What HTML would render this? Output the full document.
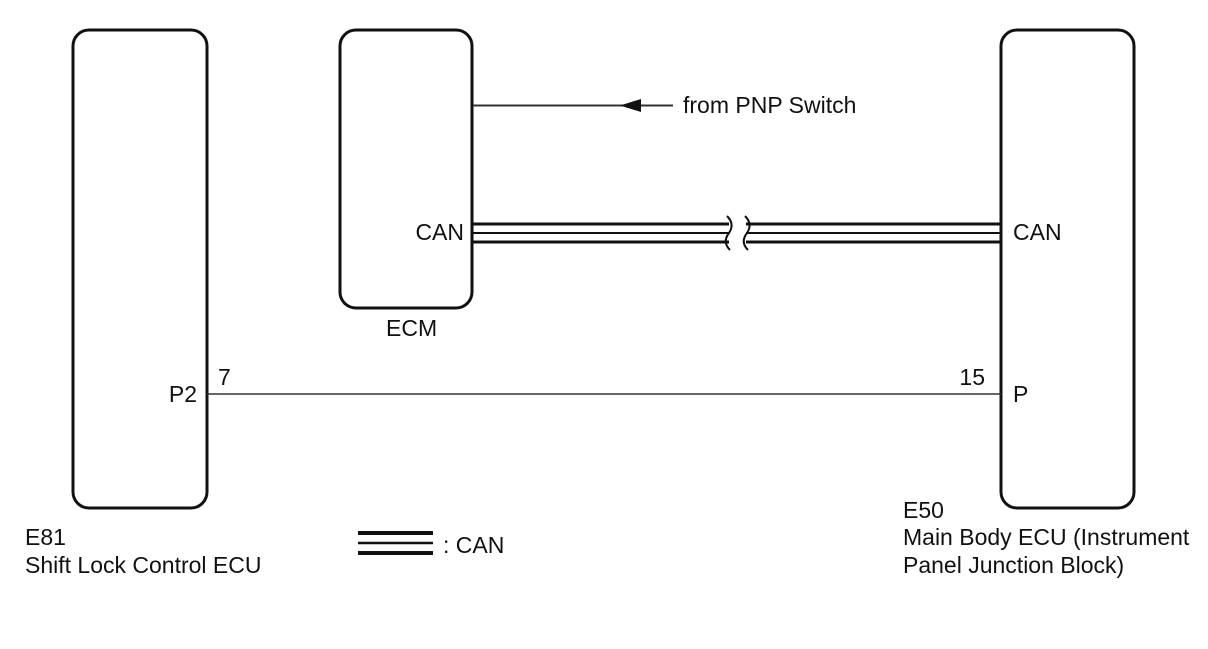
<!DOCTYPE html>
<html><head><style>
body{margin:0;background:#fff;}
svg text{font-family:"Liberation Sans",Arial,sans-serif;font-size:23px;fill:#111;}
</style></head><body>
<svg width="1208" height="644" viewBox="0 0 1208 644" xmlns="http://www.w3.org/2000/svg">
<g fill="none" stroke="#111" stroke-width="3">
<rect x="73" y="30" width="134" height="478" rx="16"/>
<rect x="340" y="30" width="132" height="278" rx="16"/>
<rect x="1001" y="30" width="133" height="478" rx="16"/>
</g>
<line x1="473" y1="105.5" x2="673" y2="105.5" stroke="#333" stroke-width="2"/>
<polygon points="620,105.5 641,99 641,112" fill="#111"/>
<text x="683" y="113">from PNP Switch</text>
<g stroke="#111">
<line x1="473" y1="224" x2="729" y2="224" stroke-width="3"/>
<line x1="473" y1="233" x2="729" y2="233" stroke-width="2"/>
<line x1="473" y1="242" x2="729" y2="242" stroke-width="3"/>
<line x1="746" y1="224" x2="1001" y2="224" stroke-width="3"/>
<line x1="746" y1="233" x2="1001" y2="233" stroke-width="2"/>
<line x1="746" y1="242" x2="1001" y2="242" stroke-width="3"/>
</g>
<path d="M727,216 q8,8 2,17 q-7,9 1,17 M745,216 q8,8 2,17 q-7,9 1,17" fill="none" stroke="#111" stroke-width="2"/>
<line x1="207" y1="394" x2="1001" y2="394" stroke="#333" stroke-width="1.6"/>
<text x="464" y="240" text-anchor="end">CAN</text>
<text x="1013" y="240">CAN</text>
<text x="386" y="336">ECM</text>
<text x="197" y="402" text-anchor="end">P2</text>
<text x="218" y="385">7</text>
<text x="985" y="385" text-anchor="end">15</text>
<text x="1013" y="402">P</text>
<g stroke="#111">
<line x1="358" y1="533" x2="433" y2="533" stroke-width="4"/>
<line x1="358" y1="543" x2="433" y2="543" stroke-width="2.5"/>
<line x1="358" y1="553" x2="433" y2="553" stroke-width="4"/>
</g>
<text x="443" y="553">: CAN</text>
<text x="25" y="545">E81</text>
<text x="25" y="573">Shift Lock Control ECU</text>
<text x="903" y="518">E50</text>
<text x="903" y="545">Main Body ECU (Instrument</text>
<text x="903" y="573">Panel Junction Block)</text>
</svg>
</body></html>
